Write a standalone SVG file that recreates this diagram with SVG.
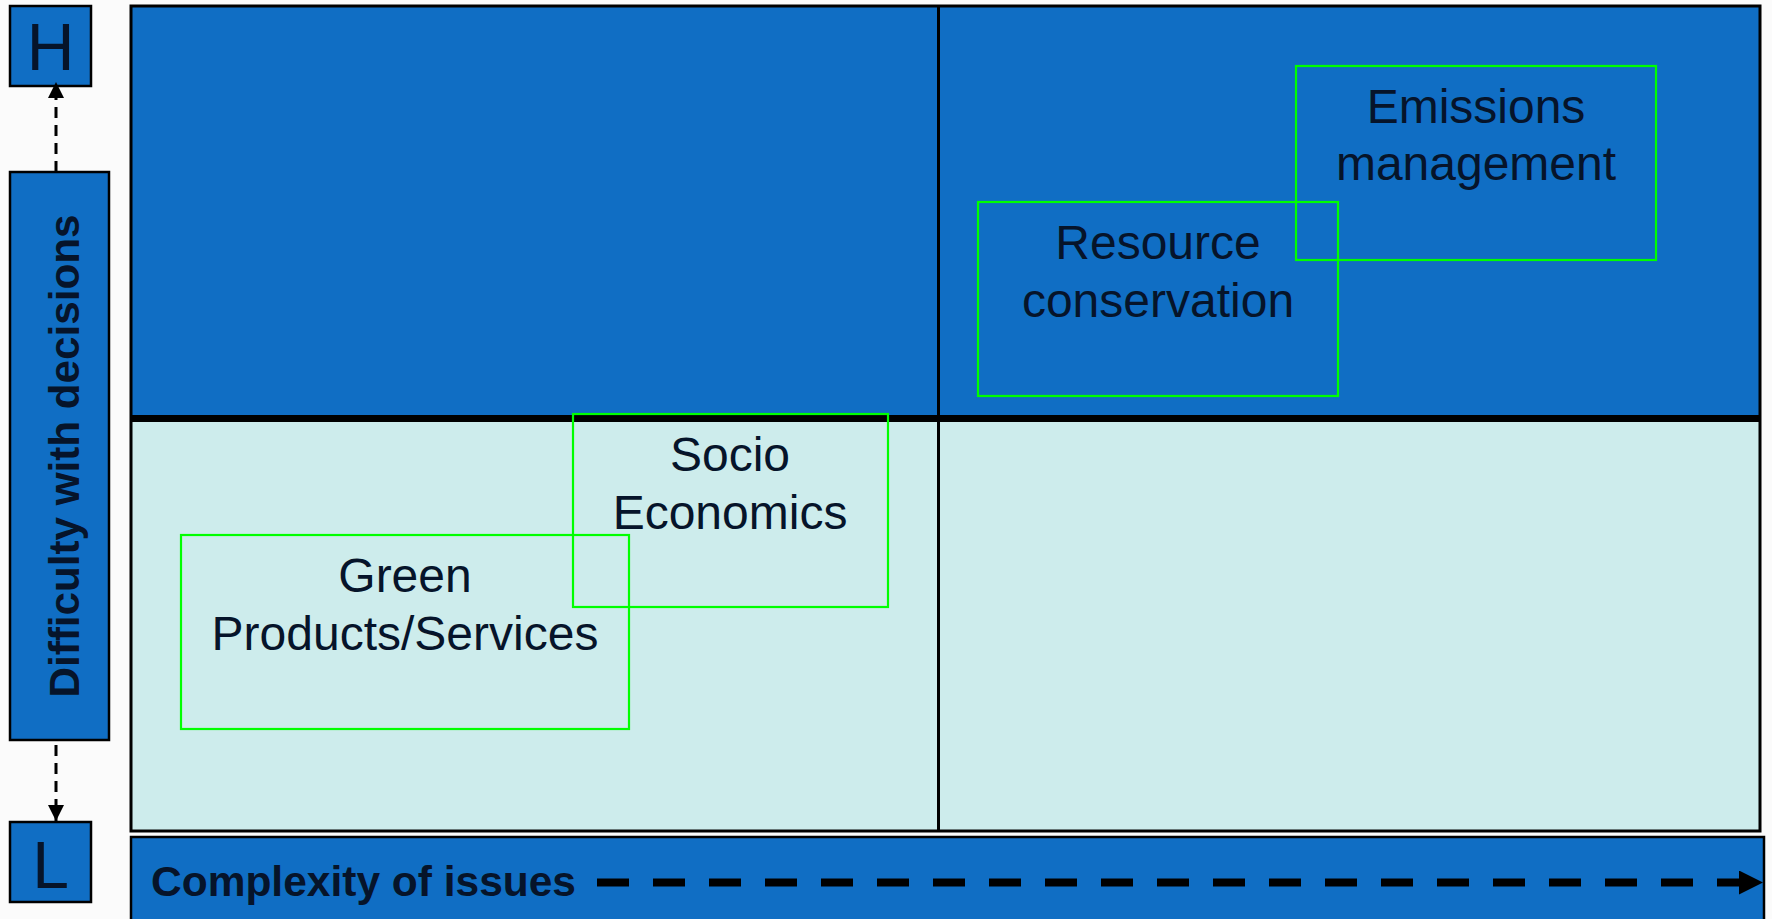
<svg xmlns="http://www.w3.org/2000/svg" width="1772" height="919" viewBox="0 0 1772 919">
<defs>
<style>
.blue{fill:#106ec4;stroke:#000;stroke-width:2.5}
.lbl{font-family:"Liberation Sans",Arial,sans-serif;fill:#06142a}
.big{font-size:66px}
.bold{font-weight:bold}
.item{font-size:48px;text-anchor:middle}
.gbox{fill:none;stroke:#00ff00;stroke-width:2.2}
.vdash{stroke:#000;stroke-width:3;stroke-dasharray:11 7;fill:none}
</style>
<marker id="ah" markerWidth="16" markerHeight="16" refX="16" refY="8" orient="auto" markerUnits="userSpaceOnUse">
<path d="M0,0 L16,8 L0,16 Z" fill="#000"/>
</marker>
<marker id="ah2" markerWidth="24" markerHeight="24" refX="24" refY="12" orient="auto" markerUnits="userSpaceOnUse">
<path d="M0,0 L24,12 L0,24 Z" fill="#000"/>
</marker>
</defs>
<rect x="0" y="0" width="1772" height="919" fill="#fbfbfb"/>

<g id="chart">
<rect x="131" y="6" width="1629" height="412" fill="#106ec4"/>
<rect x="131" y="418" width="1629" height="413" fill="#cdecec"/>
<rect x="131" y="6" width="1629" height="825" fill="none" stroke="#000" stroke-width="3"/>
<line x1="938.5" y1="6" x2="938.5" y2="831" stroke="#000" stroke-width="3"/>
<line x1="131" y1="418.5" x2="1760" y2="418.5" stroke="#000" stroke-width="7"/>
</g>

<g id="node-H">
<rect class="blue" x="10" y="6" width="81" height="80"/>
<text class="lbl big" x="50.5" y="70" text-anchor="middle">H</text>
</g>
<g id="node-L">
<rect class="blue" x="10" y="822" width="81" height="80"/>
<text class="lbl big" x="50.5" y="888" text-anchor="middle">L</text>
</g>
<g id="node-difficulty">
<rect class="blue" x="10" y="172" width="99" height="568"/>
<text class="lbl bold" font-size="42" transform="translate(79,456) rotate(-90)" text-anchor="middle" textLength="483" lengthAdjust="spacingAndGlyphs">Difficulty with decisions</text>
</g>
<g id="node-complexity">
<rect class="blue" x="131" y="837" width="1633" height="90"/>
<text class="lbl bold" font-size="43" x="151" y="896" textLength="425" lengthAdjust="spacingAndGlyphs">Complexity of issues</text>
</g>

<g id="node-emissions">
<rect class="gbox" x="1296" y="66" width="360" height="194"/>
<text class="lbl item" x="1476" y="123">Emissions</text>
<text class="lbl item" x="1476" y="180">management</text>
</g>
<g id="node-resource">
<rect class="gbox" x="978" y="202" width="360" height="194"/>
<text class="lbl item" x="1158" y="259">Resource</text>
<text class="lbl item" x="1158" y="317">conservation</text>
</g>
<g id="node-socio">
<rect class="gbox" x="573" y="414" width="315" height="193"/>
<text class="lbl item" x="730" y="471">Socio</text>
<text class="lbl item" x="730" y="529">Economics</text>
</g>
<g id="node-green">
<rect class="gbox" x="181" y="535" width="448" height="194"/>
<text class="lbl item" x="405" y="592">Green</text>
<text class="lbl item" x="405" y="650">Products/Services</text>
</g>

<g id="connectors">
<line class="vdash" x1="56" y1="172" x2="56" y2="82" marker-end="url(#ah)"/>
<line class="vdash" x1="56" y1="745" x2="56" y2="821" marker-end="url(#ah)"/>
<line x1="597" y1="882.5" x2="1763" y2="882.5" stroke="#000" stroke-width="8" stroke-dasharray="32 24" marker-end="url(#ah2)"/>
</g>
</svg>
